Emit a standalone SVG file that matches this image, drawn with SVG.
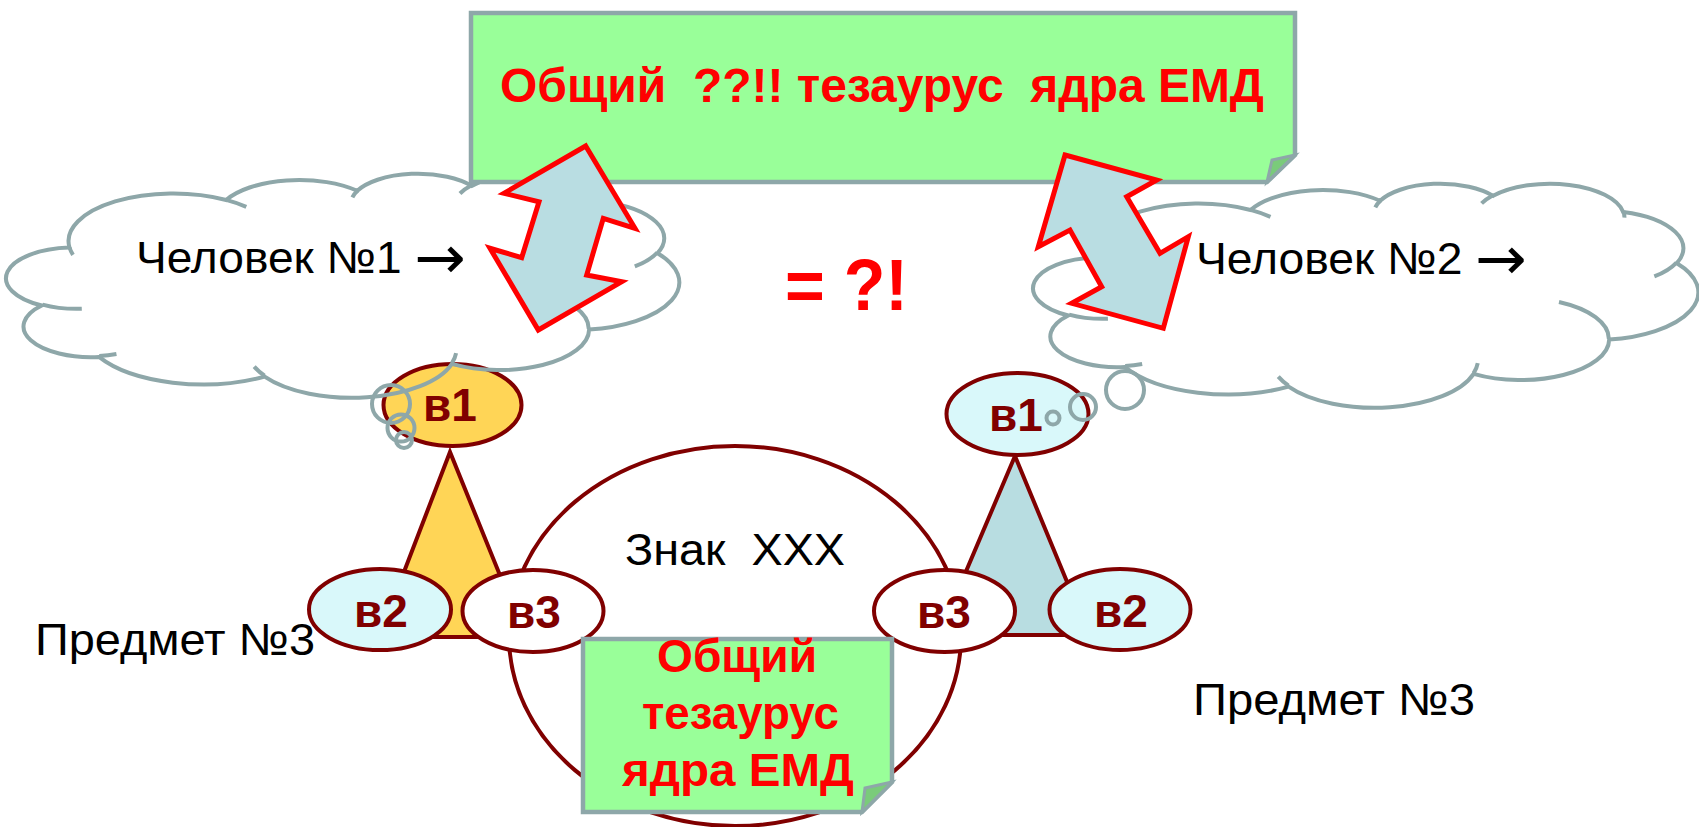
<svg xmlns="http://www.w3.org/2000/svg" width="1699" height="827" viewBox="0 0 1699 827">
<defs>
<style>
.t{font-family:"Liberation Sans",Arial,"DejaVu Sans",sans-serif;}
.plain{font-size:45px;fill:#000000;}
.red{font-weight:bold;fill:#ff0000;}
.arr{font-family:"Noto Sans","DejaVu Sans",sans-serif;font-size:60px;}
.lbl{font-family:"Liberation Sans",Arial,sans-serif;font-weight:bold;font-size:46px;fill:#800000;text-anchor:middle;}
.node{stroke:#800000;stroke-width:4;}
.cloud{fill:none;stroke:#8ea7a9;stroke-width:4;}
.note{fill:#99ff99;stroke:#8ea7a9;stroke-width:4.5;stroke-linejoin:miter;}
.fold{fill:#7acb7a;stroke:#8ea7a9;stroke-width:3;stroke-linejoin:miter;}
.jag{fill:#b9dde2;stroke:#ff0000;stroke-width:5;stroke-linejoin:miter;stroke-miterlimit:10;}
</style>
</defs>
<rect width="1699" height="827" fill="#ffffff"/>

<!-- left sign triangle -->
<g id="triangle-left">
  <polygon class="node" fill="#ffd556" points="450,452 379,637 525,637"/>
</g>
<!-- right sign triangle -->
<g id="triangle-right">
  <polygon class="node" fill="#b8dde1" points="1015,456 939,635 1089,635"/>
</g>

<!-- sign circle -->
<g id="sign">
  <ellipse class="node" fill="#ffffff" stroke-width="3.5" cx="735" cy="636" rx="226" ry="190"/>
  <text class="t plain" x="625" y="565" textLength="220" lengthAdjust="spacingAndGlyphs" xml:space="preserve">Знак  XXX</text>
</g>

<!-- vertices of the left triangle -->
<g id="left-v1">
  <ellipse class="node" fill="#ffd556" cx="452.5" cy="405" rx="69" ry="41"/>
  <text class="lbl" x="450" y="421">в1</text>
</g>
<g id="left-v2">
  <ellipse class="node" fill="#d9f8fa" cx="380" cy="609.5" rx="71" ry="40.5"/>
  <text class="lbl" x="381" y="627">в2</text>
</g>
<g id="left-v3">
  <ellipse class="node" fill="#ffffff" cx="533" cy="611" rx="70.5" ry="41"/>
  <text class="lbl" x="534" y="628">в3</text>
</g>

<!-- vertices of the right triangle -->
<g id="right-v1">
  <ellipse class="node" fill="#d9f8fa" cx="1017.5" cy="414" rx="71" ry="41"/>
  <text class="lbl" x="1016" y="431">в1</text>
</g>
<g id="right-v3">
  <ellipse class="node" fill="#ffffff" cx="944.5" cy="611" rx="70.5" ry="41"/>
  <text class="lbl" x="944" y="628">в3</text>
</g>
<g id="right-v2">
  <ellipse class="node" fill="#d9f8fa" cx="1120" cy="609.5" rx="70.5" ry="40.5"/>
  <text class="lbl" x="1121" y="627">в2</text>
</g>

<!-- thought cloud of person 1 -->
<g id="cloud-1">
  <g transform="translate(9,173) scale(0.015509,0.005185)">
    <path class="cloud" vector-effect="non-scaling-stroke" d="M3900,14370 A6753,9190 0 0 1 14004,5202 A5333,7267 0 0 1 22455,3432 A4365,5945 0 0 1 29833,2481 A4857,6595 0 0 1 38318,5576 A5333,7273 0 0 1 41819,15460 A6775,9220 0 0 1 37405,30203 A5785,7867 0 0 1 28556,36813 A6752,9215 0 0 1 16481,39265 A7720,10543 0 0 1 5804,35474 A4360,5918 0 0 1 2111,25554 A4345,5945 0 0 1 3900,14370 Z"/>
    <path class="cloud" vector-effect="non-scaling-stroke" d="M4693,26177 A4345,5945 0 0 1 2159,25379 M6928,34899 A4360,5918 0 0 1 5820,35280 M16478,39090 A6752,9215 0 0 1 15810,37351 M28827,34751 A6752,9215 0 0 1 28561,36660 M34129,22954 A5785,7867 0 0 1 37381,30090 M41798,15354 A5333,7273 0 0 1 40350,18030 M38324,5426 A4857,6595 0 0 1 38400,6690 M29078,3952 A4857,6595 0 0 1 29819,2342 M22141,4720 A4365,5945 0 0 1 22500,3330 M14000,5192 A6753,9190 0 0 1 15301,6541 M4127,15789 A6753,9190 0 0 1 3900,14371"/>
  </g>
  <circle class="cloud" cx="391" cy="404" r="19"/>
  <circle class="cloud" cx="401" cy="428" r="13.5"/>
  <circle class="cloud" cx="404" cy="440" r="8"/>
  <text class="t plain" x="136" y="273" textLength="330" lengthAdjust="spacingAndGlyphs">Человек №1 <tspan class="arr" dy="5">→</tspan></text>
</g>

<!-- thought cloud of person 2 -->
<g id="cloud-2">
  <g transform="translate(1036,183) scale(0.015324,0.005185)">
    <path class="cloud" vector-effect="non-scaling-stroke" d="M3900,14370 A6753,9190 0 0 1 14004,5202 A5333,7267 0 0 1 22455,3432 A4365,5945 0 0 1 29833,2481 A4857,6595 0 0 1 38318,5576 A5333,7273 0 0 1 41819,15460 A6775,9220 0 0 1 37405,30203 A5785,7867 0 0 1 28556,36813 A6752,9215 0 0 1 16481,39265 A7720,10543 0 0 1 5804,35474 A4360,5918 0 0 1 2111,25554 A4345,5945 0 0 1 3900,14370 Z"/>
    <path class="cloud" vector-effect="non-scaling-stroke" d="M4693,26177 A4345,5945 0 0 1 2159,25379 M6928,34899 A4360,5918 0 0 1 5820,35280 M16478,39090 A6752,9215 0 0 1 15810,37351 M28827,34751 A6752,9215 0 0 1 28561,36660 M34129,22954 A5785,7867 0 0 1 37381,30090 M41798,15354 A5333,7273 0 0 1 40350,18030 M38324,5426 A4857,6595 0 0 1 38400,6690 M29078,3952 A4857,6595 0 0 1 29819,2342 M22141,4720 A4365,5945 0 0 1 22500,3330 M14000,5192 A6753,9190 0 0 1 15301,6541 M4127,15789 A6753,9190 0 0 1 3900,14371"/>
  </g>
  <circle class="cloud" cx="1125" cy="390" r="19"/>
  <circle class="cloud" cx="1083" cy="407" r="13"/>
  <circle class="cloud" cx="1053" cy="418" r="6.5"/>
  <text class="t plain" x="1196" y="274" textLength="331" lengthAdjust="spacingAndGlyphs">Человек №2 <tspan class="arr" dy="5">→</tspan></text>
</g>

<!-- shared thesaurus note (top) -->
<g id="note-top">
  <path class="note" d="M471,13 H1295 V155 L1267,182 H471 Z"/>
  <path class="fold" d="M1295,155 L1272,160 L1267,182 Z"/>
  <text class="t red" font-size="48" x="500" y="102" textLength="764" lengthAdjust="spacingAndGlyphs" xml:space="preserve">Общий  ??!! тезаурус  ядра ЕМД</text>
</g>

<!-- exchange arrows -->
<g id="connectors">
  <polygon class="jag" points="585.7,146 635,228.3 603.3,218.3 586.7,275 621.7,281.7 538.3,330 490,248.3 521.7,257.7 539,201.7 504,193.3"/>
  <polygon class="jag" points="1065,155 1156.7,180 1126.7,196.7 1160,253.3 1188.3,236.7 1163.3,328.3 1071.7,303.3 1101.7,286.7 1070,230 1038.3,246.7"/>
</g>

<!-- shared thesaurus note (inside the sign) -->
<g id="note-bottom">
  <path class="note" d="M583,639 H892 V782 L862,812 H583 Z"/>
  <path class="fold" d="M892,782 L865,788 L862,812 Z"/>
  <text class="t red" font-size="46" x="657" y="672" textLength="160" lengthAdjust="spacingAndGlyphs">Общий</text>
  <text class="t red" font-size="46" x="642" y="729" textLength="197" lengthAdjust="spacingAndGlyphs">тезаурус</text>
  <text class="t red" font-size="46" x="622" y="786" textLength="232" lengthAdjust="spacingAndGlyphs">ядра ЕМД</text>
</g>

<!-- free labels -->
<g id="labels">
  <text class="t red" font-size="72" x="785" y="310" textLength="123" lengthAdjust="spacingAndGlyphs">= ?!</text>
  <text class="t plain" x="35" y="655" textLength="280" lengthAdjust="spacingAndGlyphs">Предмет №3</text>
  <text class="t plain" x="1193" y="715" textLength="282" lengthAdjust="spacingAndGlyphs">Предмет №3</text>
</g>
</svg>
